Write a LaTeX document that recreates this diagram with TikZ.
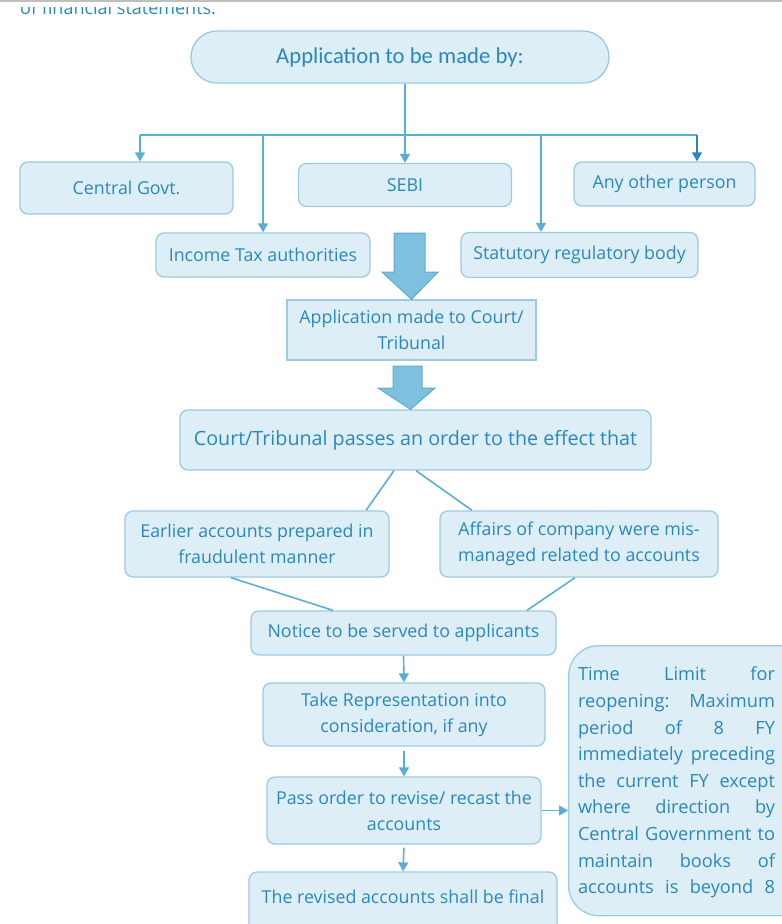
\documentclass[tikz,border=0pt]{standalone}
\usepackage{fontspec}
\setmainfont{Open Sans}
\newfontfamily\headfont{Carlito}
\usetikzlibrary{arrows.meta}
\definecolor{ink}{HTML}{2888BC}
\definecolor{boxfill}{HTML}{DEEEF6}
\definecolor{boxline}{HTML}{9ACBE2}
\definecolor{wire}{HTML}{5BAED3}
\definecolor{wiredark}{HTML}{2E86BA}
\definecolor{blockfill}{HTML}{7FC0DE}
\definecolor{blockline}{HTML}{5FAAD0}

\begin{document}
\begin{tikzpicture}[x=1pt,y=-1pt,
  box/.style={draw=boxline, fill=boxfill, line width=1.3pt, text=ink, align=center,
    inner sep=0pt, font=\fontsize{17.8}{26}\selectfont},
  rbox/.style={box, rounded corners=8pt},
  wire/.style={draw=wire, line width=1.6pt},
  arr/.style={wire, -{Triangle[length=9pt,width=10pt]}},
  block/.style={draw=blockline, fill=blockfill, line width=1pt, line join=miter},
]
\useasboundingbox (0,0) rectangle (782,924);
\clip (0,0) rectangle (782,924);

% page rule and the clipped end of the previous paragraph
\draw[black!25, line width=1.5pt] (0,1) -- (782,1);
\begin{scope}
  \clip (0,7) rectangle (782,22);
  \node[text=ink, inner sep=0pt, anchor=base west, font=\fontsize{18}{20}\selectfont] (prev) at (20,14) {of financial statements.};
\end{scope}

% applicants
\node[rbox, rounded corners=26pt, minimum width=418pt, minimum height=52pt,
      font=\headfont\fontsize{22.7}{26}\selectfont] (top) at (400,57) {Application to be made by:};
\node[rbox, minimum width=213pt, minimum height=52pt] (cg)   at (126.5,188) {Central Govt.};
\node[rbox, minimum width=213pt, minimum height=43pt] (sebi) at (405,185) {SEBI};
\node[rbox, minimum width=181pt, minimum height=44pt] (any)  at (664.5,184) {Any other person};
\node[rbox, minimum width=214pt, minimum height=44pt] (itax) at (263,255) {Income Tax authorities};
\node[rbox, minimum width=237pt, minimum height=45pt] (stat) at (579.5,255) {Statutory regulatory body};

% branching connectors
\coordinate (bl) at (140,135);
\coordinate (br) at (697,135);
\coordinate (b3) at (541,135);
\draw[wire] (bl) -- (br);
\draw[arr] (top.south -| sebi.north) -- (sebi.north);
\draw[arr] (bl) -- (bl |- cg.north);
\draw[arr] (itax.north |- bl) -- (itax.north);
\draw[arr] (b3) -- (b3 |- stat.north);
\draw[arr, draw=wiredark] (br) -- (br |- any.north);

% court stage
\node[box, minimum width=249pt, minimum height=60pt] (court) at (411.5,330) {Application made to Court/\\Tribunal};
\node[rbox, minimum width=471pt, minimum height=60pt, font=\fontsize{19.7}{26}\selectfont] (order) at (415.5,440)
  {Court/Tribunal passes an order to the effect that};

% block arrows
\draw[block] (394,233) -- (425,233) -- (425,272) -- (438,272) -- (court.north) -- (382,272) -- (394,272) -- cycle;
\draw[block] (393,366) -- (422,366) -- (422,388) -- (435,388) -- ([xshift=-5pt]order.north) -- (378,388) -- (393,388) -- cycle;

% grounds
\node[rbox, minimum width=264pt, minimum height=66pt] (earlier) at (257,544) {Earlier accounts prepared in\\fraudulent manner};
\node[rbox, minimum width=278pt, minimum height=66pt] (affairs) at (579,544) {Affairs of company were mis-\\managed related to accounts};
\draw[wire] ([xshift=-21.5pt]order.south) -- ([xshift=109pt]earlier.north);
\draw[wire] ([xshift=0.5pt]order.south) -- ([xshift=-107pt]affairs.north);

% procedure
\node[rbox, minimum width=305pt, minimum height=44pt] (notice) at (403.5,633) {Notice to be served to applicants};
\node[rbox, minimum width=282pt, minimum height=63pt] (rep) at (404,714.5) {Take Representation into\\consideration, if any};
\node[rbox, minimum width=274pt, minimum height=67pt] (pass) at (404,810.5) {Pass order to revise/ recast the\\accounts};
\node[rbox, minimum width=308pt, minimum height=62pt, text height=13pt, text depth=13pt] (final) at (403,903) {The revised accounts shall be final};
\draw[wire] ([xshift=-26pt]earlier.south) -- ([xshift=-70.5pt]notice.north);
\draw[wire] ([xshift=-4pt]affairs.south) -- ([xshift=123.5pt]notice.north);
\draw[arr] (notice.south) -- (rep.north);
\draw[arr, shorten <=4pt] (rep.south) -- (pass.north);
\draw[arr, shorten <=3pt] (pass.south) -- (final.north);

% time limit note
\node[rbox, rounded corners=30pt, minimum width=245pt, minimum height=270pt, anchor=north west] (limit) at (568,645) {};
\node[text=ink, inner sep=0pt, align=left, font=\fontsize{18.2}{26.6}\selectfont] (limittext) at (676.5,782.5)
  {\makebox[197pt][s]{Time Limit for}\\
   \makebox[197pt][s]{reopening: Maximum}\\
   \makebox[197pt][s]{period of 8 FY}\\
   \makebox[197pt][s]{immediately preceding}\\
   \makebox[197pt][s]{the current FY except}\\
   \makebox[197pt][s]{where direction by}\\
   \makebox[197pt][s]{Central Government to}\\
   \makebox[197pt][s]{maintain books of}\\
   \makebox[197pt][s]{accounts is beyond 8}};
\draw[arr] (pass.east) -- (pass.east -| limit.west);
\end{tikzpicture}
\end{document}
